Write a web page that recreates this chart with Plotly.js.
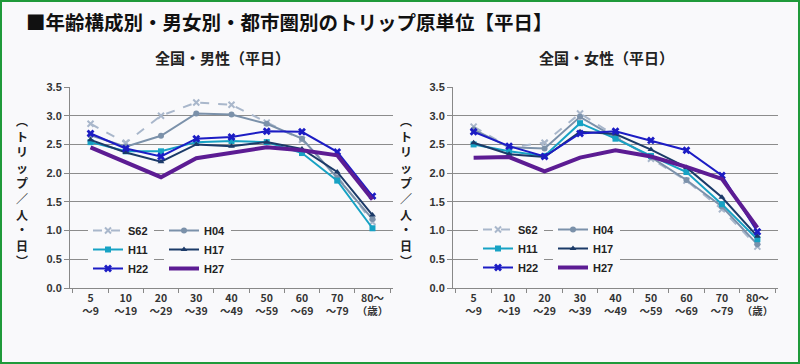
<!DOCTYPE html>
<html><head><meta charset="utf-8">
<script src="https://cdn.plot.ly/plotly-3.0.1.min.js"></script>
<style>
html,body{margin:0;padding:0;background:#f9f9fb;}
#wrap{position:relative;width:800px;height:364px;}
#chart{width:800px;height:364px;}
#frame{position:absolute;left:0;top:0;width:796px;height:360px;border:2px solid #1f9a3a;pointer-events:none;}
</style></head>
<body><div id="wrap"><div id="chart"></div><div id="frame"></div></div>
<script>
const categories = ["5<br>～9","10<br>～19","20<br>～29","30<br>～39","40<br>～49","50<br>～59","60<br>～69","70<br>～79","80～<br>（歳）"];
const seriesNames = ["S62","H04","H11","H17","H22","H27"];

const male_S62 = [2.86, 2.53, 3.00, 3.23, 3.19, 2.88, 2.58, 1.95, 1.15];
const male_H04 = [2.66, 2.46, 2.65, 3.04, 3.02, 2.86, 2.60, 1.92, 1.20];
const male_H11 = [2.54, 2.38, 2.38, 2.54, 2.56, 2.54, 2.35, 1.87, 1.04];
const male_H17 = [2.58, 2.36, 2.20, 2.50, 2.47, 2.54, 2.42, 2.02, 1.27];
const male_H22 = [2.69, 2.43, 2.29, 2.60, 2.63, 2.73, 2.72, 2.37, 1.60];
const male_H27 = [2.45, 2.19, 1.93, 2.26, 2.36, 2.45, 2.40, 2.31, 1.54];

const female_S62 = [2.81, 2.45, 2.53, 3.04, 2.65, 2.25, 1.87, 1.37, 0.72];
const female_H04 = [2.76, 2.45, 2.43, 2.98, 2.62, 2.28, 1.88, 1.42, 0.76];
const female_H11 = [2.50, 2.38, 2.30, 2.87, 2.60, 2.30, 2.02, 1.46, 0.85];
const female_H17 = [2.53, 2.33, 2.28, 2.72, 2.68, 2.41, 2.10, 1.58, 0.90];
const female_H22 = [2.72, 2.47, 2.29, 2.69, 2.73, 2.57, 2.40, 1.96, 0.98];
const female_H27 = [2.27, 2.28, 2.03, 2.27, 2.40, 2.29, 2.11, 1.90, 1.05];

const mainTitle = "■年齢構成別・男女別・都市圏別のトリップ原単位【平日】";
const maleTitle = "全国・男性（平日）";
const femaleTitle = "全国・女性（平日）";
const yTitleChars = ["︵","ト","リ","ッ","プ","／","人","・","日","︶"];

const styles = {
  S62: {line:{color:"#a9b7cb", width:2, dash:"dash"}, marker:{symbol:"x-thin-open", size:6, color:"#a9b7cb", line:{width:2, color:"#a9b7cb"}}},
  H04: {line:{color:"#7b91aa", width:2}, marker:{symbol:"circle", size:6, color:"#7b91aa"}},
  H11: {line:{color:"#17a2c4", width:2}, marker:{symbol:"square", size:6, color:"#17a2c4"}},
  H17: {line:{color:"#1b3a68", width:2}, marker:{symbol:"triangle-up", size:6, color:"#1b3a68"}},
  H22: {line:{color:"#1c1cc4", width:2}, marker:{symbol:"x", size:7, color:"#1c1cc4"}},
  H27: {line:{color:"#5c1c93", width:4}, marker:{size:1, opacity:0}}
};

const maleData = [male_S62, male_H04, male_H11, male_H17, male_H22, male_H27];
const femaleData = [female_S62, female_H04, female_H11, female_H17, female_H22, female_H27];
const colLeft = ["S62","H11","H22"];

const traces = [];
seriesNames.forEach((n,i)=>{
  const st = styles[n];
  traces.push({type:"scatter", mode: n==="H27"?"lines":"lines+markers", name:n, x:categories, y:maleData[i],
    xaxis:"x", yaxis:"y", line:st.line, marker:st.marker,
    legend: colLeft.includes(n)?"legend":"legend2"});
});
seriesNames.forEach((n,i)=>{
  const st = styles[n];
  traces.push({type:"scatter", mode: n==="H27"?"lines":"lines+markers", name:n, x:categories, y:femaleData[i],
    xaxis:"x2", yaxis:"y2", line:st.line, marker:st.marker,
    legend: colLeft.includes(n)?"legend3":"legend4"});
});

const W=800, H=364;
const px = v=>v/W, py = v=>1-v/H;
const tickFont = {family:"Liberation Sans, Arial, sans-serif", size:11, color:"#333", weight:"bold"};
const xAxisBase = {type:"category", tickson:"boundaries", ticks:"outside", ticklen:4, tickcolor:"#888", tickangle:0,
  showline:true, linecolor:"#888", linewidth:1, showgrid:false, zeroline:false,
  tickfont:{family:"Noto Sans CJK JP, sans-serif", size:10.5, color:"#333", weight:"bold"}, fixedrange:true};
const yAxisBase = {range:[0,3.5], dtick:0.5, tickformat:".1f", ticks:"outside", ticklen:5, tickcolor:"#888",
  showline:true, linecolor:"#888", showgrid:true, gridcolor:"#8c8c8c", gridwidth:1, zeroline:false,
  tickfont:tickFont, fixedrange:true};
const legBase = {orientation:"v", bgcolor:"#f9f9fb", borderwidth:0, xanchor:"left", yanchor:"top",
  font:{family:"Liberation Sans, Arial, sans-serif", size:11, color:"#222", weight:"bold"}, tracegroupgap:0};

const vTitle = yTitleChars.join("<br>");
const layout = {
  width:W, height:H, margin:{l:0,r:0,t:0,b:0},
  paper_bgcolor:"#f9f9fb", plot_bgcolor:"#f9f9fb",
  showlegend:true,
  xaxis: Object.assign({}, xAxisBase, {domain:[px(70), px(393)], anchor:"y"}),
  yaxis: Object.assign({}, yAxisBase, {domain:[py(288), py(87)], anchor:"x"}),
  xaxis2: Object.assign({}, xAxisBase, {domain:[px(453), px(778)], anchor:"y2"}),
  yaxis2: Object.assign({}, yAxisBase, {domain:[py(288), py(87)], anchor:"x2"}),
  legend: Object.assign({}, legBase, {x:px(88), y:py(216)}),
  legend2: Object.assign({}, legBase, {x:px(164), y:py(216)}),
  legend3: Object.assign({}, legBase, {x:px(478), y:py(215)}),
  legend4: Object.assign({}, legBase, {x:px(553), y:py(215)}),
  annotations: [
    {text:mainTitle, xref:"paper", yref:"paper", x:px(24), y:py(21), xanchor:"left", yanchor:"middle", showarrow:false,
      font:{family:"Noto Sans CJK JP, sans-serif", size:19.5, color:"#111", weight:"bold"}},
    {text:maleTitle, xref:"paper", yref:"paper", x:px(222), y:py(57), xanchor:"center", yanchor:"middle", showarrow:false,
      font:{family:"Noto Sans CJK JP, sans-serif", size:15, color:"#222", weight:"bold"}},
    {text:femaleTitle, xref:"paper", yref:"paper", x:px(606), y:py(57), xanchor:"center", yanchor:"middle", showarrow:false,
      font:{family:"Noto Sans CJK JP, sans-serif", size:15, color:"#222", weight:"bold"}},
    {text:vTitle, xref:"paper", yref:"paper", x:px(22), y:py(190), xanchor:"center", yanchor:"middle", showarrow:false,
      font:{family:"Noto Sans CJK JP, sans-serif", size:12, color:"#222", weight:"bold"}},
    {text:vTitle, xref:"paper", yref:"paper", x:px(406), y:py(190), xanchor:"center", yanchor:"middle", showarrow:false,
      font:{family:"Noto Sans CJK JP, sans-serif", size:12, color:"#222", weight:"bold"}}
  ]
};
Plotly.newPlot("chart", traces, layout, {displayModeBar:false, staticPlot:true});
</script></body></html>
